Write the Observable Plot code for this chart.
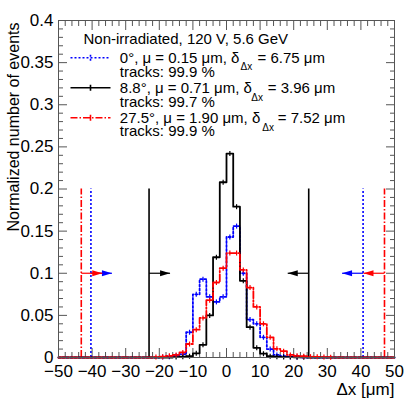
<!DOCTYPE html>
<html><head><meta charset="utf-8">
<script src="https://cdn.jsdelivr.net/npm/d3@7"></script>
<script src="https://cdn.jsdelivr.net/npm/@observablehq/plot@0.6"></script>
<style>
body{margin:0;background:#fff}
#chart{width:415px;height:399px}
</style>
</head><body><div id="chart"></div>
<script>
// ---------- data ----------
const binLow = -50, binWidth = 2, binCount = 50;   // histogram binning (Δx in μm)
const seriesNames = ["0°", "8.8°", "27.5°"];
const seriesMu = ["0.15", "0.71", "1.90"];
const seriesDelta = ["6.75", "3.96", "7.52"];
const seriesTracks = ["99.9", "99.7", "99.9"];

const values0 = [
  0,0,0,0,0,0,0,0,0,0,
  0,0,0,0,0,0.0005,0.001,0.002,0.004,0.030,
  0.075,0.093,0.072,0.066,0.072,0.143,0.156,0.100,0.045,0.040,
  0.024,0.010,0.003,0.0015,0.001,0.0005,0,0,0,0,
  0,0,0,0,0,0,0,0,0,0
];
const values88 = [
  0,0,0,0,0,0,0,0,0,0,
  0,0,0,0,0,0,0,0.0005,0.001,0.0015,
  0.005,0.015,0.050,0.119,0.208,0.242,0.179,0.091,0.036,0.0115,
  0.0045,0.0015,0.001,0.0005,0.0005,0.0003,0.0002,0,0,0,
  0,0,0,0,0,0,0,0,0,0
];
const values275 = [
  0,0,0,0,0,0,0,0,0,0,
  0,0,0,0,0.0005,0.001,0.002,0.003,0.006,0.016,
  0.033,0.047,0.068,0.089,0.106,0.124,0.124,0.104,0.083,0.060,
  0.040,0.024,0.0103,0.0075,0.003,0.002,0.0015,0.001,0.0008,0.0005,
  0.0003,0,0,0,0,0,0,0,0,0
];
const cutLow = [-40.35, -23.05, -43.22];
const cutHigh = [40.65, 24.47, 47.02];
const cutTop = 0.2, arrowLevel = 0.1;

const xMajor = [-50,-40,-30,-20,-10,0,10,20,30,40,50];
const yMajor = [0,0.05,0.1,0.15,0.2,0.25,0.3,0.35,0.4];

// ---------- styles ----------
const colors = ["#0000ff", "#000000", "#ff0000"];
const dashes = ["2,2", null, "7,2,1.5,2"];
const widths = [1.8, 1.8, 1.8];
const arrowLen = 6.25;  // μm
const FONT = "'Liberation Sans', Arial, Helvetica, sans-serif";
const axisColor = "#555";

const allValues = [values0, values88, values275];
const xMinor = d3.range(-50, 51, 2).filter(d => d % 10 !== 0);
const yMinor = d3.range(0, 41, 1).filter(d => d % 5 !== 0).map(d => d / 100);

function stepData(vals) {
  const pts = vals.map((v, i) => ({x: binLow + i * binWidth, y: v}));
  pts.push({x: binLow + binCount * binWidth, y: vals[vals.length - 1]});
  return pts;
}
function centerData(vals) {
  return vals.map((v, i) => ({x: binLow + (i + 0.5) * binWidth, y: v})).filter(d => d.y > 0);
}
const vbar = {draw(ctx) { ctx.moveTo(0, -2.5); ctx.lineTo(0, 2.5); }};
const legendSym = {draw(ctx) { ctx.moveTo(-20, 0); ctx.lineTo(20, 0); ctx.moveTo(0, -3); ctx.lineTo(0, 3); }};
const headSym = {draw(ctx) { ctx.moveTo(0, 0); ctx.lineTo(-10, -3); ctx.lineTo(-10, 3); ctx.closePath(); }};

const fmtX = d => d < 0 ? "\u2212" + Math.abs(d) : String(d);

const marks = [];
// ticks (inward) on all four sides
for (const anchor of ["bottom", "top"]) {
  marks.push(Plot.axisX(xMajor, {anchor, tickSize: -9, fill: "none", stroke: axisColor, label: null}));
  marks.push(Plot.axisX(xMinor, {anchor, tickSize: -5, fill: "none", stroke: axisColor, label: null}));
}
for (const anchor of ["left", "right"]) {
  marks.push(Plot.axisY(yMajor, {anchor, tickSize: -9, fill: "none", stroke: axisColor, label: null}));
  marks.push(Plot.axisY(yMinor, {anchor, tickSize: -5, fill: "none", stroke: axisColor, label: null}));
}
// tick labels
marks.push(Plot.axisX(xMajor, {anchor: "bottom", tickSize: 0, tickPadding: 7, tickFormat: fmtX, label: null, fontSize: 17}));
marks.push(Plot.axisY(yMajor, {anchor: "left", tickSize: 0, tickPadding: 5, tickFormat: d => String(d), label: null, fontSize: 17}));

// cut lines + arrows
for (let s = 0; s < 3; s++) {
  const cuts = [cutLow[s], cutHigh[s]];
  marks.push(Plot.ruleX(cuts, {x: d => d, y1: 0, y2: cutTop, stroke: colors[s], strokeWidth: 1.6, strokeDasharray: dashes[s]}));
  const arrows = [{x1: cutLow[s], x2: cutLow[s] + arrowLen, r: 0}, {x1: cutHigh[s], x2: cutHigh[s] - arrowLen, r: 180}];
  marks.push(Plot.link(arrows, {x1: "x1", x2: "x2", y1: arrowLevel, y2: arrowLevel, stroke: colors[s], strokeWidth: 1.2}));
  marks.push(Plot.dot(arrows, {x: "x2", y: arrowLevel, symbol: headSym, rotate: "r", fill: colors[s], stroke: "none"}));
}

// histograms
for (let s = 0; s < 3; s++) {
  marks.push(Plot.line(stepData(allValues[s]), {x: "x", y: "y", curve: "step-after", stroke: colors[s], strokeWidth: widths[s], strokeDasharray: dashes[s]}));
  marks.push(Plot.dot(centerData(allValues[s]), {x: "x", y: "y", symbol: vbar, fill: "none", stroke: colors[s], strokeWidth: 1.2}));
}

marks.push(Plot.frame({stroke: axisColor, strokeWidth: 1}));

// axis titles
marks.push(Plot.text(["\u0394x [\u03bcm]"], {frameAnchor: "bottom-right", textAnchor: "end", lineAnchor: "top", dy: 25, dx: 0, fontSize: 17}));
marks.push(Plot.text(["Normalized number of events"], {frameAnchor: "top-left", rotate: -90, textAnchor: "end", lineAnchor: "middle", dx: -45, dy: 2, fontSize: 16}));

// legend (positions relative to the frame's top-left corner at 58,20)
const L = {x0: 58, y0: 20};
marks.push(Plot.text(["Non-irradiated, 120 V, 5.6 GeV"], {frameAnchor: "top-left", textAnchor: "start", lineAnchor: "bottom", dx: 83 - L.x0, dy: 43 - L.y0, fontSize: 15}));
const rowBase = [62, 92, 122], rowTracks = [76, 106, 135], rowSubBase = [69.5, 100, 130.5];
const rowLineY = [57.3, 87.3, 117.3], subX = [240, 250.7, 261.7], eqX = [257, 267.3, 277.3];
for (let s = 0; s < 3; s++) {
  marks.push(Plot.dot([0], {frameAnchor: "top-left", dx: 90 - L.x0, dy: rowLineY[s] - L.y0, symbol: legendSym, fill: "none", stroke: colors[s], strokeWidth: 1.6, strokeDasharray: dashes[s]}));
  marks.push(Plot.text([`${seriesNames[s]}, \u03bc = ${seriesMu[s]} \u03bcm, \u03b4`], {frameAnchor: "top-left", textAnchor: "start", lineAnchor: "bottom", dx: 119.3 - L.x0, dy: rowBase[s] - L.y0, fontSize: 15}));
  marks.push(Plot.text(["\u0394x"], {frameAnchor: "top-left", textAnchor: "start", lineAnchor: "bottom", dx: subX[s] - L.x0, dy: rowSubBase[s] - L.y0, fontSize: 10}));
  marks.push(Plot.text([`= ${seriesDelta[s]} \u03bcm`], {frameAnchor: "top-left", textAnchor: "start", lineAnchor: "bottom", dx: eqX[s] - L.x0, dy: rowBase[s] - L.y0, fontSize: 15}));
  marks.push(Plot.text([`tracks: ${seriesTracks[s]} %`], {frameAnchor: "top-left", textAnchor: "start", lineAnchor: "bottom", dx: 119.3 - L.x0, dy: rowTracks[s] - L.y0, fontSize: 15}));
}

const chart = Plot.plot({
  width: 415,
  height: 399,
  marginLeft: 58,
  marginRight: 21,
  marginTop: 20,
  marginBottom: 42,
  x: {domain: [-50, 50]},
  y: {domain: [0, 0.4]},
  style: {fontFamily: FONT, fontSize: "16px", color: "#000", background: "#fff", overflow: "visible"},
  marks
});
document.getElementById("chart").appendChild(chart);
</script>
</body></html>
